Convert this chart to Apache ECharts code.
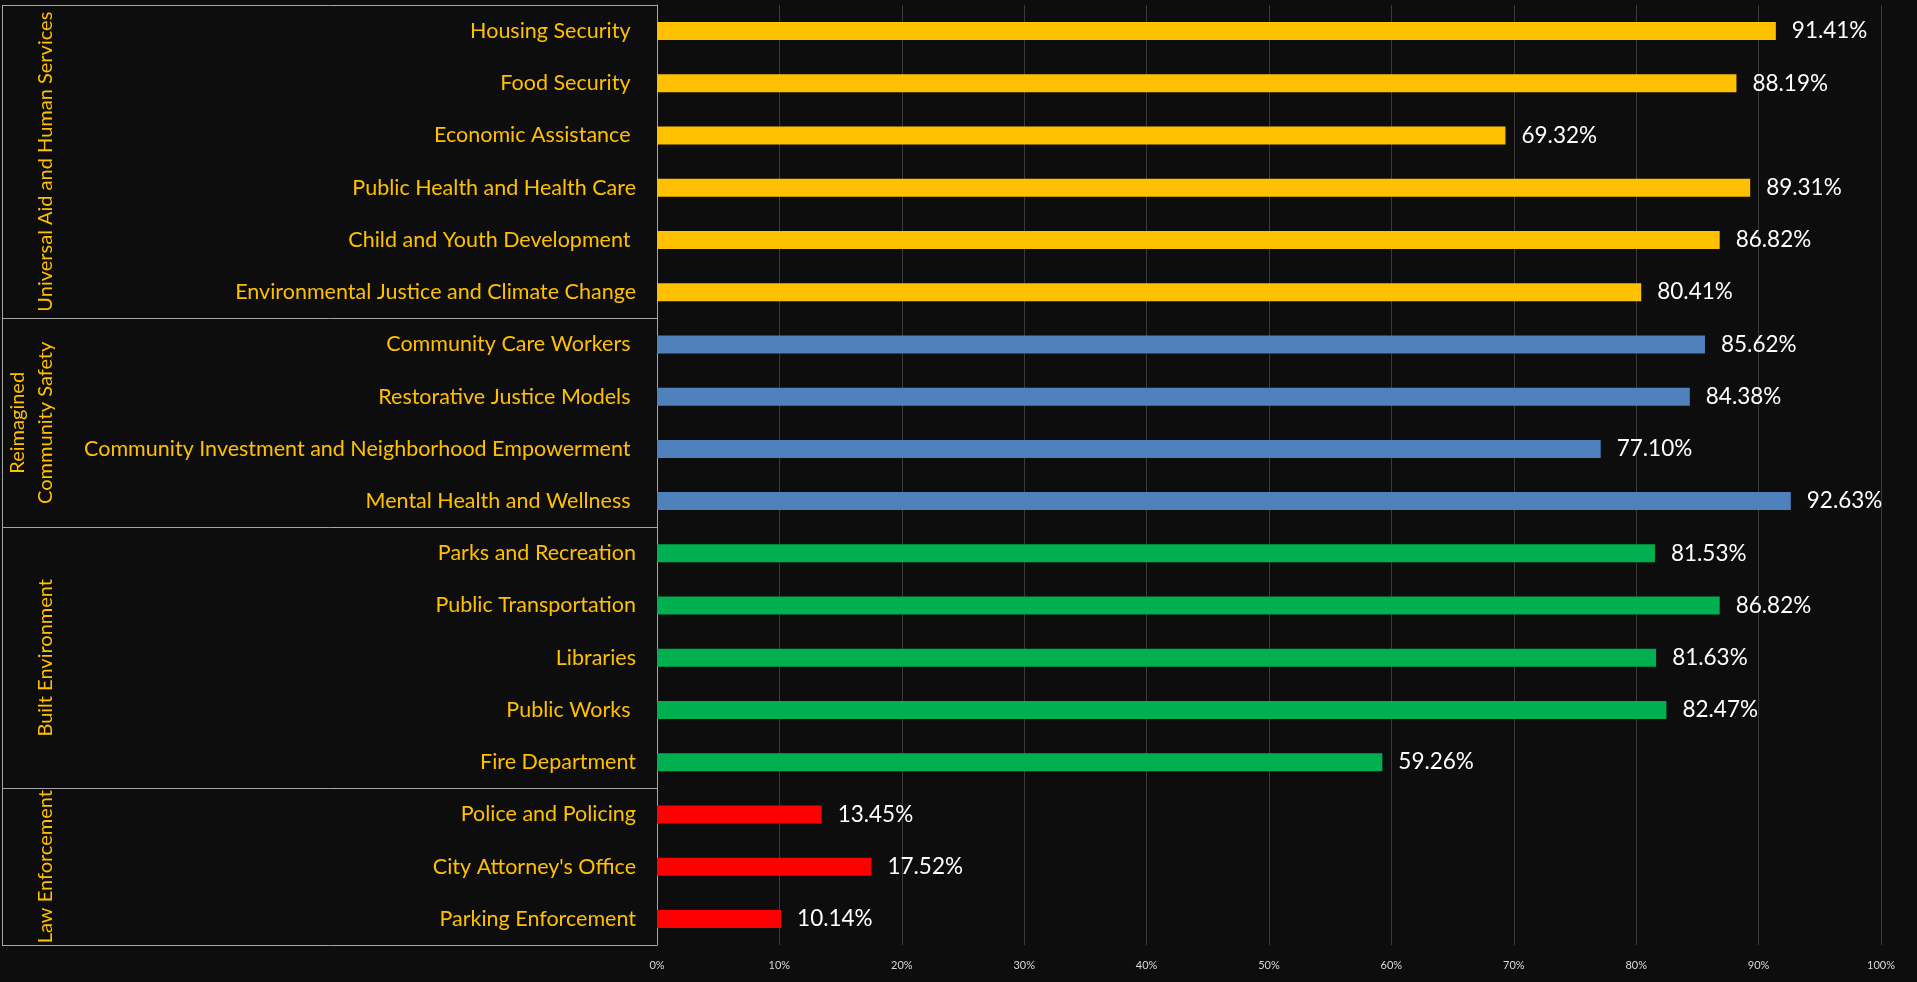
<!DOCTYPE html>
<html>
<head>
<meta charset="utf-8">
<script src="https://cdn.jsdelivr.net/npm/echarts@6/dist/echarts.min.js"></script>
<style>
html,body{margin:0;padding:0;background:#0d0d0d;}
#c{width:1917px;height:982px;}
</style>
</head>
<body>
<div id="c"></div>
<script>
// ---- data ----
const categories = [
  'Housing Security ', 'Food Security ', 'Economic Assistance ', 'Public Health and Health Care',
  'Child and Youth Development ', 'Environmental Justice and Climate Change',
  'Community Care Workers ', 'Restorative Justice Models ',
  'Community Investment and Neighborhood Empowerment ', 'Mental Health and Wellness ',
  'Parks and Recreation', 'Public Transportation', 'Libraries', 'Public Works ', 'Fire Department',
  'Police and Policing', "City Attorney's Office", 'Parking Enforcement'
];
const values = [91.41, 88.19, 69.32, 89.31, 86.82, 80.41, 85.62, 84.38, 77.10, 92.63,
  81.53, 86.82, 81.63, 82.47, 59.26, 13.45, 17.52, 10.14];
const groupNames = ['Universal Aid and Human Services', 'Reimagined\nCommunity Safety', 'Built Environment', 'Law Enforcement'];
const groupSizes = [6, 4, 5, 3];
const xTicks = [0, 10, 20, 30, 40, 50, 60, 70, 80, 90, 100];

// ---- style ----
const groupColors = ['#FFC000', '#4F81BD', '#00B050', '#FF0000'];
const labelColor = '#FFC000';
const FONT = 'Lato, "Open Sans", sans-serif';

const itemGroup = [];
groupSizes.forEach((n, g) => { for (let i = 0; i < n; i++) itemGroup.push(g); });

const chart = echarts.init(document.getElementById('c'), null, {renderer: 'canvas'});
const option = {
  backgroundColor: '#0d0d0d',
  animation: false,
  grid: {left: 657, right: 36, top: 5, bottom: 37, containLabel: false},
  xAxis: {
    type: 'value', min: xTicks[0], max: xTicks[xTicks.length - 1], interval: 10,
    axisLine: {show: false}, axisTick: {show: false},
    splitLine: {show: true, lineStyle: {color: '#3a3a3a', width: 1}},
    axisLabel: {color: '#d9d9d9', fontSize: 11, fontFamily: FONT, margin: 15, formatter: v => v + '%'}
  },
  yAxis: {
    type: 'category', data: categories, inverse: true,
    axisLine: {show: true, lineStyle: {color: '#a6a6a6', width: 1}},
    axisTick: {show: false},
    axisLabel: {color: labelColor, fontSize: 21.5, fontFamily: FONT, margin: 21}
  },
  series: [{
    type: 'bar',
    barWidth: 18,
    data: values.map((v, i) => ({value: v, itemStyle: {color: groupColors[itemGroup[i]]}})),
    label: {
      show: true, position: 'right', distance: 16, color: '#ffffff', fontSize: 22.5, fontFamily: FONT,
      formatter: p => p.value.toFixed(2) + '%'
    }
  }]
};
chart.setOption(option);

// ---- multi-level category box, positioned through the axis scales ----
function drawBox() {
  const c0 = chart.convertToPixel({yAxisIndex: 0}, categories[0]);
  const c1 = chart.convertToPixel({yAxisIndex: 0}, categories[1]);
  const step = c1 - c0;
  const top = c0 - step / 2;
  const xr = chart.convertToPixel({xAxisIndex: 0}, 0);
  const xl = 2;
  const line = {stroke: '#a6a6a6', lineWidth: 1};
  const els = [];
  let idx = 0;
  const bounds = [top];
  groupSizes.forEach(n => { idx += n; bounds.push(top + idx * step); });
  bounds.forEach(y => {
    const yy = Math.round(y) + 0.5;
    els.push({type: 'line', shape: {x1: xl, y1: yy, x2: xr, y2: yy}, style: line, silent: true});
  });
  els.push({type: 'line', shape: {x1: xl + 0.5, y1: Math.round(bounds[0]) + 0.5, x2: xl + 0.5, y2: Math.round(bounds[bounds.length - 1]) + 0.5}, style: line, silent: true});
  groupNames.forEach((name, g) => {
    const cy = (bounds[g] + bounds[g + 1]) / 2;
    const lines = name.split('\n').length;
    els.push({
      type: 'text', x: lines > 1 ? 32 : 46, y: cy, rotation: Math.PI / 2, silent: true,
      style: {text: name, fill: labelColor, font: '20px ' + FONT, align: 'center', verticalAlign: 'middle', lineHeight: 28}
    });
  });
  chart.setOption({graphic: {elements: els}});
}
drawBox();
</script>
</body>
</html>
